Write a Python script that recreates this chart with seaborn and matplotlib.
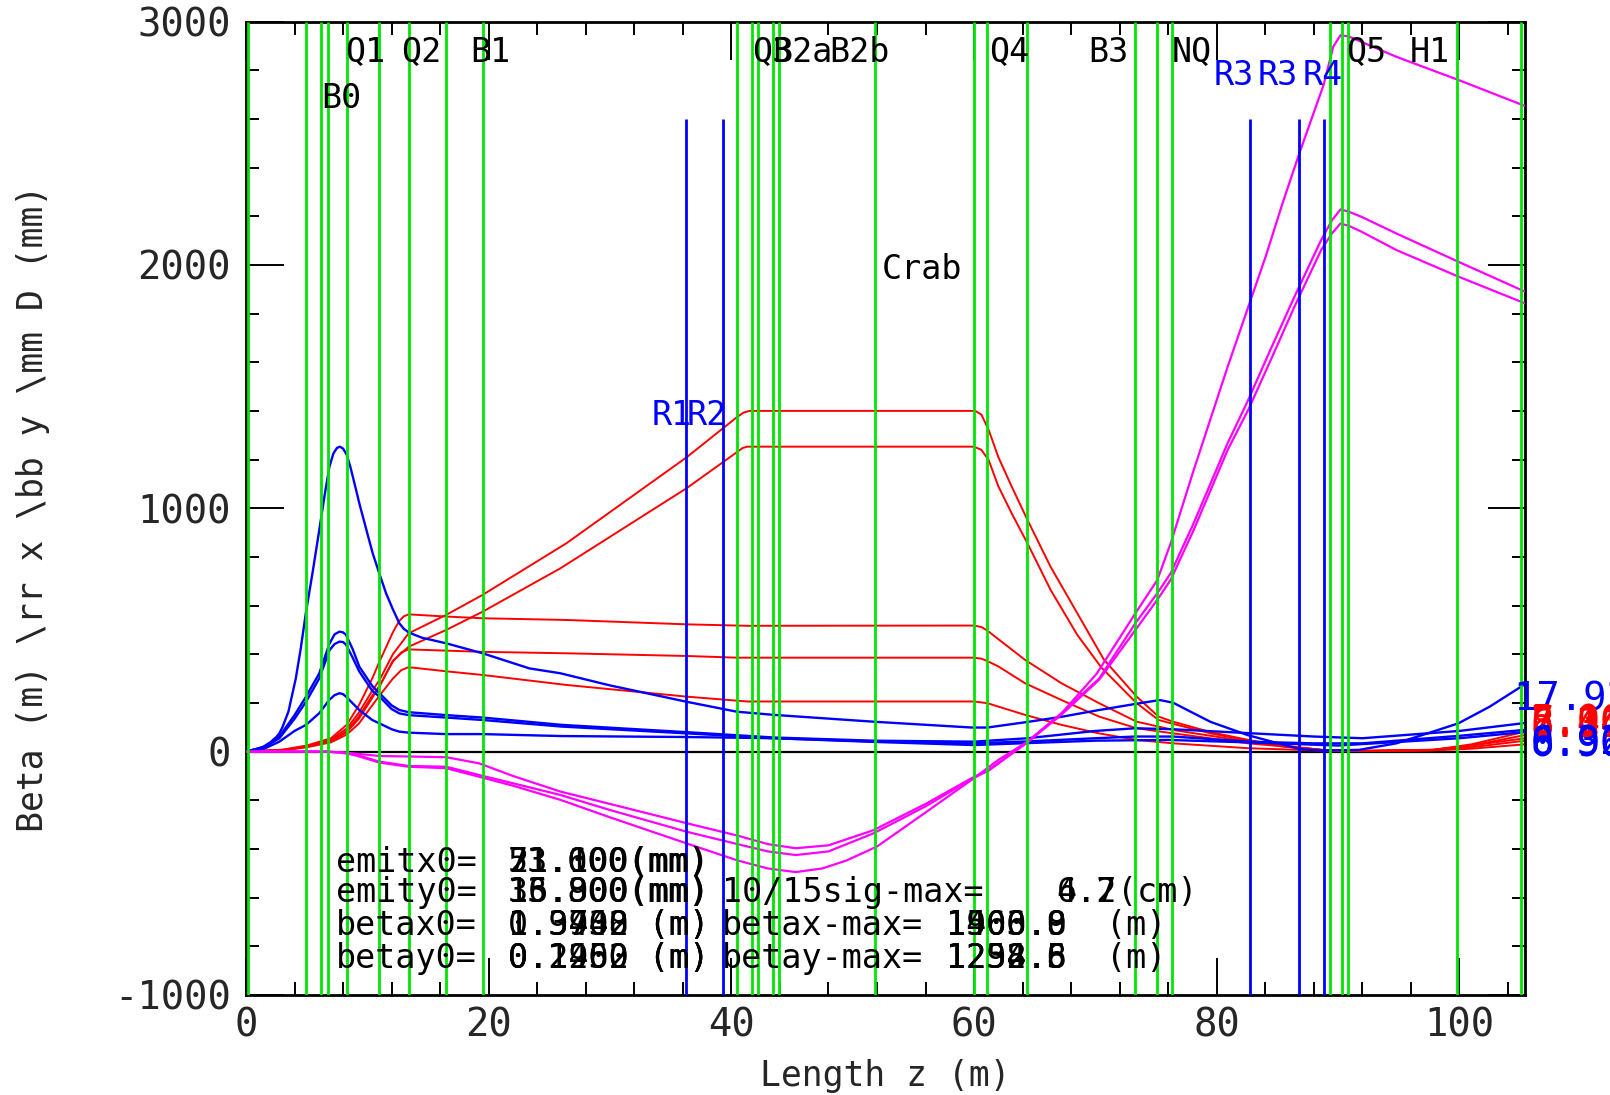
import matplotlib
matplotlib.use("Agg")
import matplotlib.pyplot as plt
import seaborn as sns
from matplotlib.ticker import MultipleLocator

# ---------------- data ----------------
green_markers = [0.2, 4.95, 6.2, 6.75, 8.3, 11.0, 13.4, 16.5, 19.5, 40.5, 41.7, 42.2, 43.4, 43.9,
                 51.8, 60.0, 61.1, 64.4, 73.3, 75.1, 76.3, 89.3, 90.3, 90.8, 99.8, 105.1]
blue_markers = [36.3, 39.3, 82.7, 86.8, 88.8]
blue_marker_top = 2600

element_names = ["Q1", "Q2", "B1", "Q3", "B2a", "B2b", "Q4", "B3", "NQ", "Q5", "H1"]
element_pos = [8.2, 12.8, 18.5, 41.7, 43.4, 48.1, 61.2, 69.4, 76.3, 90.7, 95.9]
b0_name, b0_pos = "B0", 6.2
rf_names = ["R1", "R2"]
rf_pos = [33.4, 36.3]
rf2_names = ["R3", "R3", "R4"]
rf2_pos = [79.7, 83.4, 87.1]

# blue curves
blue1_z = [0, 1.0, 1.5, 2.0, 2.5, 2.75, 3.0, 3.5, 4.1, 4.5, 4.95, 5.5, 6.04, 6.5, 6.87, 7.2, 7.5, 7.75,
           8.0, 8.3, 8.6, 9.0, 9.34, 9.9, 10.44, 11.0, 11.54, 12.1, 12.64, 13.0, 13.43, 14.5, 16.5,
           19.5, 23.35, 25.9, 30, 36.3, 40.45, 43.5, 51.7, 59.8, 61.1, 64.4, 67.2, 70.3, 73.3, 75.3,
           76.4, 78, 79.5, 82.6, 85.6, 86.9, 88.7, 91.7, 94.8, 97.8, 99.9, 102.5, 105.3]
blue1_v = [0, 12, 22, 38, 60, 75, 100, 165, 300, 420, 575, 740, 911, 1060, 1170, 1225, 1248, 1253,
           1245, 1220, 1170, 1090, 1020, 915, 815, 730, 651, 585, 527, 505, 489, 468, 445,
           404, 342, 322, 272, 205, 164, 151, 123, 99, 99, 122, 143, 171, 196, 212,
           201, 160, 122, 67, 27, 10, 5, 7, 34, 82, 116, 185, 274]
blue2_z = [0, 1.5, 2.75, 4.0, 4.95, 6.04, 6.87, 7.3, 7.7, 8.0, 8.24, 8.8, 9.34, 10.4, 11.0, 12.0, 12.64,
           13.4, 16.5, 19.5, 26.0, 36.3, 43.5, 51.7, 60.0, 64.4, 70.0, 73.3, 76.4, 82.6, 88.0, 92.0,
           100.0, 105.3]
blue2_v = [0, 20, 62, 150, 226, 322, 443, 482, 493, 490, 480, 420, 349, 270, 240, 190, 171,
           162, 150, 140, 110, 80, 58, 45, 41, 55, 85, 96, 92, 76, 62, 55,
           85, 117]
blue3_z = blue2_z
blue3_v = [0, 18, 55, 135, 205, 301, 416, 442, 452, 450, 440, 385, 329, 250, 226, 175, 157,
           150, 140, 130, 103, 75, 55, 42, 34, 42, 55, 62, 62, 41, 34, 34,
           65, 89]
blue4_z = [0, 1.5, 2.75, 4.0, 4.95, 6.04, 6.87, 7.3, 7.7, 8.0, 8.24, 8.8, 9.34, 10.4, 11.0, 12.0, 12.64,
           13.4, 16.5, 19.5, 26.0, 36.3, 43.5, 51.7, 60.0, 64.4, 70.0, 76.0, 82.6, 90.0, 100.0, 105.3]
blue4_v = [0, 12, 41, 85, 110, 158, 213, 232, 240, 236, 226, 198, 171, 130, 116, 92, 82,
           78, 72, 72, 64, 60, 55, 40, 27, 35, 45, 48, 38, 25, 55, 80]

# red curves
redA_z = [0, 3, 5, 7, 8.3, 9.3, 10.4, 11.0, 12.1, 13.4, 16.5, 19.5, 26.4, 36.3, 40.5, 41.0, 41.5, 60.1,
          60.6, 61.2, 62.0, 63.1, 64.4, 66.3, 68.5, 70.7, 73.4, 75.2, 76.4, 79.5, 82.6, 85.6, 88.7,
          91.7, 97.8, 101, 105.4]
redA_v = [0, 7, 22, 50, 95, 160, 250, 294, 400, 486, 562, 644, 856, 1209, 1376, 1393, 1400, 1400,
          1385, 1322, 1210, 1089, 952, 760, 569, 378, 226, 144, 123, 80, 48, 22, 7,
          3, 7, 30, 82]
redB_z = [0, 3, 5, 7, 8.3, 9.3, 10.4, 11.0, 12.1, 13.4, 16.5, 19.5, 25.9, 36.3, 40.5, 40.9, 41.3, 60.0,
          60.6, 61.2, 62.0, 63.1, 64.4, 66.3, 68.5, 70.5, 73.4, 75.2, 76.4, 79.5, 82.6, 85.6, 88.7,
          92, 97.8, 101, 105.4]
redB_v = [0, 6, 20, 45, 85, 145, 230, 267, 373, 431, 500, 575, 753, 1082, 1232, 1247, 1253, 1253,
          1240, 1198, 1090, 979, 856, 665, 480, 345, 199, 130, 114, 75, 45, 20, 6,
          2, 6, 25, 68]
redC_z = [0, 3, 5, 7, 8.3, 9.3, 10.4, 11.0, 12.1, 12.6, 13.0, 13.4, 16.5, 19.5, 26.4, 36.3, 41.3, 60.0,
          60.6, 61.1, 62.0, 64.2, 67.2, 70.3, 73.4, 75.2, 76.4, 82.6, 88.7, 92, 97.8, 101, 105.4]
redC_v = [0, 8, 25, 55, 110, 190, 300, 370, 490, 535, 556, 564, 555, 548, 541, 523, 517, 518,
          512, 497, 462, 377, 281, 199, 123, 103, 89, 41, 7, 3, 8, 25, 55]
redD_z = [0, 3, 5, 7, 8.3, 9.3, 10.4, 11.0, 12.1, 12.8, 13.4, 16.5, 19.5, 26.4, 36.3, 40.5, 60.0, 60.6,
          61.1, 62.0, 64.2, 67.2, 70.3, 73.4, 76.4, 82.6, 88.7, 92, 97.8, 101, 105.4]
redD_v = [0, 6, 20, 42, 80, 135, 220, 270, 370, 408, 420, 415, 410, 404, 393, 386, 386, 382,
          372, 350, 281, 212, 144, 96, 75, 34, 7, 3, 6, 18, 45]
redE_z = [0, 3, 5, 7, 8.3, 9.3, 10.4, 11.0, 12.1, 12.8, 13.4, 16.5, 19.5, 26.4, 36.3, 41.3, 60.0, 61.1,
          62.0, 64.2, 67.2, 70.3, 73.4, 76.4, 82.6, 88.7, 92, 97.8, 101, 105.4]
redE_v = [0, 5, 18, 38, 70, 115, 190, 230, 300, 335, 347, 330, 315, 274, 226, 206, 206, 199,
          185, 151, 110, 75, 48, 34, 14, 4, 2, 5, 12, 30]

# magenta curves
mag1_z = [0, 6.6, 8, 9, 11, 13.4, 16.5, 19.2, 22, 25.9, 30, 36.3, 40.5, 43, 45.3, 48, 51.7, 56, 59.8,
          61.2, 64.4, 67.2, 70.3, 73.3, 75.1, 76.2, 78.1, 80.9, 82.6, 84.5, 86.4, 88.6, 89.5, 90.2,
          90.9, 91.9, 94.8, 99.9, 105.4]
mag1_v = [0, 0, -3, -8, -18, -20, -23, -48, -100, -164, -215, -294, -345, -380, -397, -385, -323, -215,
          -109, -75, 41, 157, 300, 528, 651, 733, 939, 1268, 1446, 1660, 1869, 2102, 2184, 2228,
          2218, 2198, 2129, 2013, 1890]
mag2_z = mag1_z
mag2_v = [0, 0, -4, -12, -41, -59, -62, -96, -130, -178, -240, -329, -380, -410, -425, -410, -336, -225,
          -112, -78, 38, 152, 295, 500, 624, 706, 911, 1240, 1405, 1615, 1828, 2061, 2130, 2170,
          2160, 2137, 2061, 1952, 1842]
mag3_z = [0, 6.6, 8, 9, 11, 13.4, 16.5, 19.2, 22, 25.9, 30, 36.3, 40.5, 43, 45.3, 47.5, 49.5, 52, 56,
          59.8, 62, 64.4, 67.2, 70.1, 73.3, 75.1, 76.2, 78.1, 80.9, 82.6, 84.0, 85.4, 86.8, 88.8,
          89.6, 90.2, 90.9, 94.8, 99.9, 105.4]
mag3_v = [0, 0, -5, -15, -45, -62, -68, -103, -140, -198, -270, -377, -447, -480, -495, -480, -447, -390,
          -250, -116, -34, 41, 157, 320, 569, 705, 856, 1157, 1582, 1828, 2030, 2250, 2458, 2739,
          2897, 2944, 2938, 2855, 2760, 2653]

# text block
emitx_vals = ["21.100(mm)", "53.600(mm)", "71.000(mm)"]
emity_vals = ["15.900(mm)", "33.800(mm)", "16.300(mm)"]
sigmax_vals = ["4.7", "6.2"]
betax0_vals = ["1.9700 (m)", "0.3948 (m)", "1.3432 (m)"]
betay0_vals = ["0.1260 (m)", "0.2400 (m)", "0.1952 (m)"]
betaxmax_vals = ["1403.8", "1566.9", "1900.0"]
betaymax_vals = ["1254.8", "1298.6", "1232.5"]

right_blue_top = "17.92"
right_red_vals = ["6.31", "8.24", "2.44", "7.10", "5.06"]
right_blue_vals = ["0.96", "8.90", "6.32"]

# ---------------- plot ----------------
sns.set_style("white")
plt.rcParams['font.family'] = ['DejaVu Sans Mono', 'DejaVu Sans']
plt.rcParams['axes.unicode_minus'] = False

W, H = 1610, 1095
fig = plt.figure(figsize=(W / 100, H / 100), dpi=100)
ax = fig.add_axes([246 / W, 1 - 995 / H, (1525 - 246) / W, (995 - 21.5) / H])

RED, BLUE, MAG, GREEN = "#ff0000", "#0000ff", "#ff00ff", "#00e600"

ax.axhline(0, color="black", lw=1.6, zorder=1)

for zz, vv in [(redA_z, redA_v), (redB_z, redB_v), (redC_z, redC_v), (redD_z, redD_v), (redE_z, redE_v)]:
    sns.lineplot(x=zz, y=vv, ax=ax, color=RED, lw=1.4, estimator=None, sort=False, zorder=2)
for zz, vv in [(blue1_z, blue1_v), (blue2_z, blue2_v), (blue3_z, blue3_v), (blue4_z, blue4_v)]:
    sns.lineplot(x=zz, y=vv, ax=ax, color=BLUE, lw=1.7, estimator=None, sort=False, zorder=3)
for zz, vv in [(mag1_z, mag1_v), (mag2_z, mag2_v), (mag3_z, mag3_v)]:
    sns.lineplot(x=zz, y=vv, ax=ax, color=MAG, lw=1.6, estimator=None, sort=False, zorder=3)

ax.vlines(green_markers, -1000, 3000, colors=GREEN, lw=2.0, zorder=4)
ax.vlines(blue_markers, -1000, blue_marker_top, colors=BLUE, lw=2.0, zorder=4)

ax.set_xlim(0, 105.4)
ax.set_ylim(-1000, 3000)
ax.xaxis.set_major_locator(MultipleLocator(20))
ax.xaxis.set_minor_locator(MultipleLocator(4))
ax.yaxis.set_major_locator(MultipleLocator(1000))
ax.yaxis.set_minor_locator(MultipleLocator(200))
ax.tick_params(which="both", direction="in", top=True, right=True, bottom=True, left=True,
               color="black", width=1.4)
ax.tick_params(which="major", length=27, labelsize=28)
ax.tick_params(which="minor", length=9.4)
ax.tick_params(axis="y", which="major", pad=11)
ax.tick_params(axis="x", which="major", pad=8)
for s in ax.spines.values():
    s.set_color("black")
    s.set_linewidth(2)

ax.set_xlabel("Length z (m)", fontsize=25)
ax.set_ylabel("Beta (m) \\rr x \\bb y \\mm D (mm)", fontsize=25)
ax.xaxis.set_label_coords(0.5, -0.066)
ax.yaxis.set_label_coords(-0.153, 0.5)

# element labels
for name, pos in zip(element_names, element_pos):
    ax.text(pos, 2834, name, fontsize=24, color="black", va="baseline", ha="left", zorder=5)
ax.text(b0_pos, 2644, b0_name, fontsize=24, color="black", va="baseline", ha="left", zorder=5)
for name, pos in zip(rf_names, rf_pos):
    ax.text(pos, 1342, name, fontsize=24, color=BLUE, va="baseline", ha="left", zorder=5)
for name, pos in zip(rf2_names, rf2_pos):
    ax.text(pos, 2739, name, fontsize=24, color=BLUE, va="baseline", ha="left", zorder=5)
ax.text(52.35, 1941, "Crab", fontsize=24, color="black", va="baseline", ha="left", zorder=5)

# parameter text block
tk = dict(fontsize=24, color="black", va="baseline", ha="left", zorder=6)
x0, xv, x2 = 7.42, 21.6, 39.2
ax.text(x0, -494, "emitx0=", **tk)
for s in emitx_vals:
    ax.text(xv, -494, s, **tk)
ax.text(x0, -617, "emity0=", **tk)
for s in emity_vals:
    ax.text(xv, -617, s, **tk)
ax.text(x2, -617, "10/15sig-max=", **tk)
for s in sigmax_vals:
    ax.text(66.8, -617, s, **tk)
ax.text(71.8, -617, "(cm)", **tk)
ax.text(x0, -753, "betax0=", **tk)
for s in betax0_vals:
    ax.text(xv, -753, s, **tk)
ax.text(x2, -753, "betax-max=", **tk)
for s in betaxmax_vals:
    ax.text(57.7, -753, s, **tk)
ax.text(70.9, -753, "(m)", **tk)
ax.text(x0, -889, "betay0=", **tk)
for s in betay0_vals:
    ax.text(xv, -889, s, **tk)
ax.text(x2, -889, "betay-max=", **tk)
for s in betaymax_vals:
    ax.text(57.7, -889, s, **tk)
ax.text(70.9, -889, "(m)", **tk)

# right-edge values
ax.text(104.45, 171, right_blue_top, fontsize=28, color=BLUE, va="baseline", ha="left", clip_on=False, zorder=6)
for i, s in enumerate(right_red_vals):
    ax.text(105.85, 60 + 4 * i, s, fontsize=28, color=RED, va="baseline", ha="left", clip_on=False, zorder=6)
for i, s in enumerate(right_blue_vals):
    ax.text(105.85, -20 + 5 * i, s, fontsize=28, color=BLUE, va="baseline", ha="left", clip_on=False, zorder=6)

fig.savefig("out.png", dpi=100, facecolor="white")
